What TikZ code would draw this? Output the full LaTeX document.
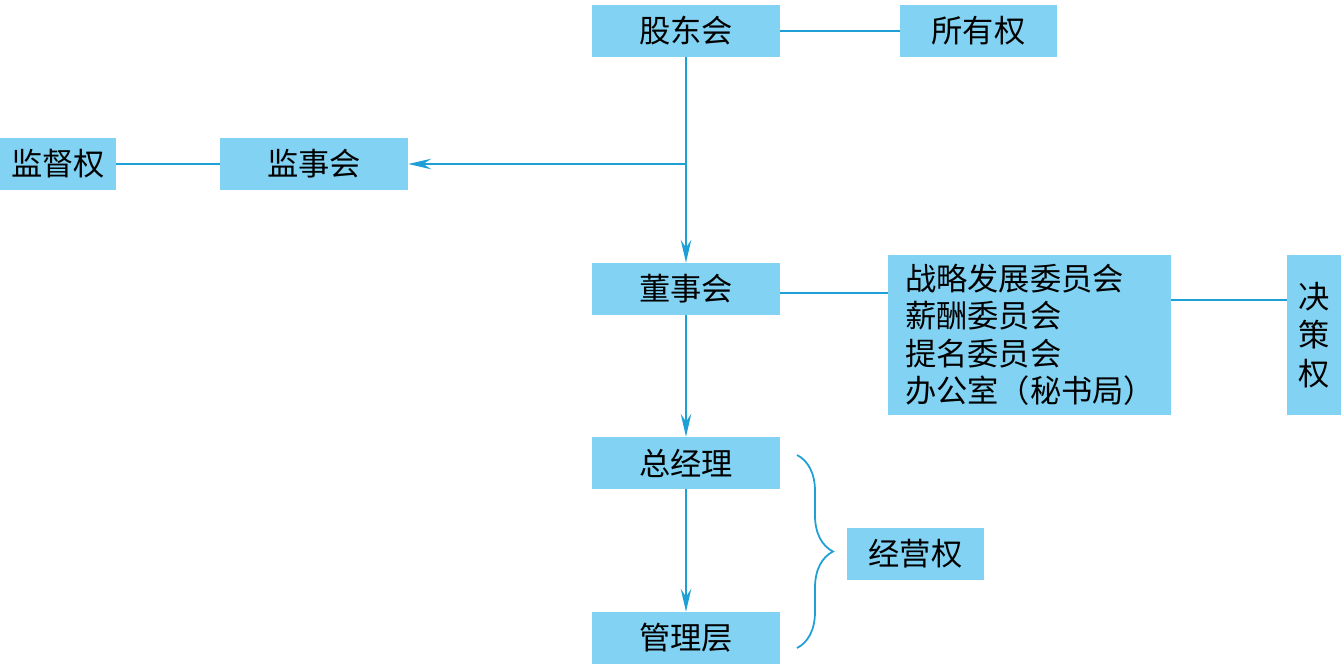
\documentclass[tikz,border=0pt]{standalone}
\usepackage{fontspec}
\newfontfamily\cjk{Noto Sans CJK SC}
\usetikzlibrary{arrows.meta,decorations.pathreplacing}

\definecolor{boxblue}{HTML}{82D3F3}
\definecolor{lineblue}{HTML}{1E9FD6}

\tikzset{
  box/.style={fill=boxblue, inner sep=0pt, minimum width=3.76cm, minimum height=1.04cm,
    font=\cjk\fontsize{17.8}{21}\selectfont},
  link/.style={draw=lineblue, line width=1pt},
  flow/.style={link, -{Stealth[length=13pt,width=6pt,inset=4.5pt]}}
}

\begin{document}
\begin{tikzpicture}[x=0.02cm, y=-0.02cm]
  \useasboundingbox (0,0) rectangle (1343,664);

  % main chain
  \node[box] (gdh) at (686,31) {股东会};
  \node[box] (dsh) at (686,289) {董事会};
  \node[box] (zjl) at (686,463) {总经理};
  \node[box] (glc) at (686,638) {管理层};

  % side boxes
  \node[box, minimum width=3.14cm] (syq) at (978.5,31) {所有权};
  \node[box] (jsh) at (314,164) {监事会};
  \node[box, minimum width=2.32cm] (jdq) at (58,164) {监督权};
  \node[box, minimum width=2.74cm] (jyq) at (915.5,554) {经营权};

  % committees
  \node[box, minimum height=3.2cm, text width=4.98cm, inner xsep=0.34cm, align=left,
    font=\cjk\fontsize{17.8}{21.3}\selectfont] (wyh) at (1029.5,335)
    {战略发展委员会\\薪酬委员会\\提名委员会\\办公室（秘书局）};
  \node[box, minimum width=1.08cm, minimum height=3.2cm, align=center,
    font=\cjk\fontsize{17.8}{22}\selectfont] (jcq) at (1314,335) {决\\策\\权};

  % connectors
  \coordinate (fork) at (686,164);
  \draw[flow] (gdh) -- (dsh);
  \draw[flow] (fork) -- (jsh);
  \draw[flow] (dsh) -- (zjl);
  \draw[flow] (zjl) -- (glc);
  \draw[link] (gdh) -- (syq);
  \draw[link] (jdq) -- (jsh);
  \draw[link] ([yshift=-4*0.02cm]dsh.east) -- ([yshift=-4*0.02cm]dsh.east -| wyh.west);
  \draw[link] ([yshift=0.7cm]wyh.east) -- ([yshift=0.7cm]wyh.east -| jcq.west);

  % brace
  \draw[link, decorate, decoration={brace, amplitude=0.72cm}] (797,455) -- (797,648);
\end{tikzpicture}
\end{document}
